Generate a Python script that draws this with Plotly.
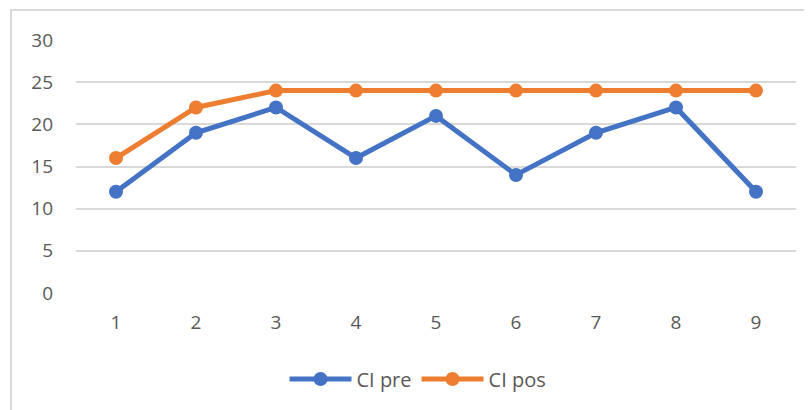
import plotly.graph_objects as go

# data
categories = ['1', '2', '3', '4', '5', '6', '7', '8', '9']
ci_pre = [12, 19, 22, 16, 21, 14, 19, 22, 12]
ci_pos = [16, 22, 24, 24, 24, 24, 24, 24, 24]

fig = go.Figure()
fig.add_trace(go.Scatter(x=categories, y=ci_pre, mode='lines+markers', name='CI pre',
                         line=dict(color='#4472C4', width=5),
                         marker=dict(size=14, color='#4472C4')))
fig.add_trace(go.Scatter(x=categories, y=ci_pos, mode='lines+markers', name='CI pos',
                         line=dict(color='#ED7D31', width=5),
                         marker=dict(size=14, color='#ED7D31')))

# light frame round the chart, like the Excel chart area
fig.add_shape(type='rect', xref='paper', yref='paper',
              x0=-0.0903, x1=1.05, y0=-0.6, y1=1.1186,
              line=dict(color='#D9D9D9', width=2), layer='below')

fig.update_layout(
    width=812, height=410,
    margin=dict(l=68, r=24, t=32, b=125),
    plot_bgcolor='white', paper_bgcolor='white',
    font=dict(family='Open Sans', size=19, color='#595959'),
    showlegend=True,
    legend=dict(orientation='h', x=0.475, xanchor='center', y=-0.34, yanchor='middle',
                itemwidth=62, font=dict(size=20, color='#595959')),
)
fig.update_xaxes(type='category', showgrid=False, showline=False, ticks='',
                 range=[-0.5, 8.5], ticklabelstandoff=16)
fig.update_yaxes(range=[0, 30], dtick=5, showgrid=True, gridcolor='#D9D9D9', gridwidth=1.5,
                 zeroline=False, showline=False, ticks='', ticklabelstandoff=22)

fig.write_html('out.html')
